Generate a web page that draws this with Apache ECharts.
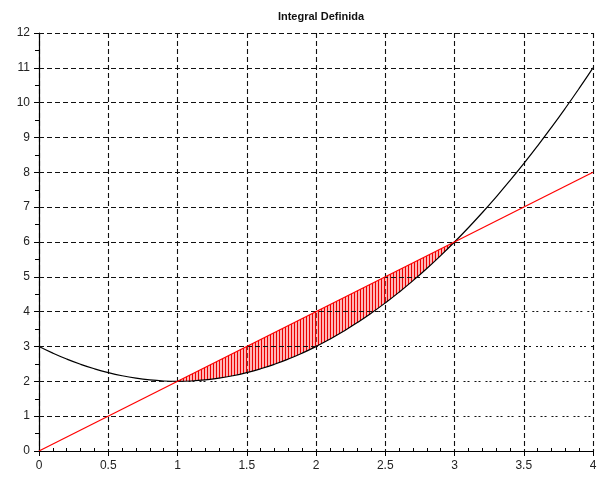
<!DOCTYPE html>
<html>
<head>
<meta charset="utf-8">
<script src="https://cdn.jsdelivr.net/npm/echarts@6/dist/echarts.min.js"></script>
<style>
  html, body { margin: 0; padding: 0; background: #fff; }
  #chart { width: 602px; height: 477px; }
</style>
</head>
<body>
<div id="chart"></div>
<script>
// Parabola f(x), sampled every 0.1
const curveX = [0, 0.1, 0.2, 0.3, 0.4, 0.5, 0.6, 0.7, 0.8, 0.9, 1, 1.1, 1.2, 1.3, 1.4, 1.5, 1.6, 1.7, 1.8, 1.9, 2,
                2.1, 2.2, 2.3, 2.4, 2.5, 2.6, 2.7, 2.8, 2.9, 3, 3.1, 3.2, 3.3, 3.4, 3.5, 3.6, 3.7, 3.8, 3.9, 4];
const curveY = [3, 2.81, 2.64, 2.49, 2.36, 2.25, 2.16, 2.09, 2.04, 2.01, 2, 2.01, 2.04, 2.09, 2.16, 2.25, 2.36, 2.49, 2.64, 2.81, 3,
                3.21, 3.44, 3.69, 3.96, 4.25, 4.56, 4.89, 5.24, 5.61, 6, 6.41, 6.84, 7.29, 7.76, 8.25, 8.76, 9.29, 9.84, 10.41, 11];

// Straight line g(x)
const lineX = [0, 4];
const lineY = [0, 8];

// Integration bounds (shaded region between the two graphs)
const boundA = 1;
const boundB = 3;

// Horizontal grid levels, and where the finer dotted style begins on the lower ones
const gridLevels = [1, 2, 3, 4, 5, 6, 7, 8, 9, 10, 11, 12];
const dottedFrom = { 1: 1, 2: 1, 3: 2, 4: 2.45 };

const xTicks = [0, 0.5, 1, 1.5, 2, 2.5, 3, 3.5, 4];
const yTicks = [0, 1, 2, 3, 4, 5, 6, 7, 8, 9, 10, 11, 12];

const FONT = 'Liberation Sans';

// Vertical hatch pattern used for the shaded area
function hatchPattern() {
  const c = document.createElement('canvas');
  c.width = 3; c.height = 4;
  const g = c.getContext('2d');
  g.fillStyle = 'rgba(255,90,90,0.45)';
  g.fillRect(0, 0, 3, 4);
  g.fillStyle = 'rgba(235,0,0,1)';
  g.fillRect(0, 0, 1, 4);
  return c;
}

const curveData = curveX.map((x, i) => [x, curveY[i]]);
const lineData = lineX.map((x, i) => [x, lineY[i]]);

const gridLines = [];
gridLevels.forEach(y => {
  const split = dottedFrom[y];
  const xMax = xTicks[xTicks.length - 1];
  const dashEnd = split !== undefined ? split : xMax;
  gridLines.push([{ coord: [0, y], lineStyle: { type: [5, 3] } }, { coord: [dashEnd, y] }]);
  if (split !== undefined) {
    gridLines.push([{ coord: [split, y], lineStyle: { type: [2, 2, 2, 5] } }, { coord: [xMax, y] }]);
  }
});

const chart = echarts.init(document.getElementById('chart'), null, { renderer: 'canvas' });
const pattern = hatchPattern();

chart.setOption({
  animation: false,
  backgroundColor: '#ffffff',
  title: {
    text: 'Integral Definida',
    left: 316, top: 6, textAlign: 'center',
    textStyle: { fontFamily: FONT, fontSize: 11, fontWeight: 'bold', color: '#111' }
  },
  grid: { left: 39, right: 9, top: 33, bottom: 26 },
  xAxis: [{
    type: 'value', min: xTicks[0], max: xTicks[xTicks.length - 1], interval: 0.5,
    axisLine: { show: true, onZero: false, lineStyle: { color: '#000', width: 1.2 } },
    axisTick: { show: true, length: 5, lineStyle: { color: '#000' } },
    minorTick: { show: false },
    axisLabel: { margin: 9, fontFamily: FONT, fontSize: 12, color: '#222' },
    splitLine: { show: true, lineStyle: { color: '#111', width: 1.1, type: [5, 3] } }
  }, {
    type: 'value', min: xTicks[0], max: xTicks[xTicks.length - 1], interval: 0.5,
    position: 'bottom',
    axisLine: { show: false },
    axisTick: { show: false, inside: true },
    minorTick: { show: true, splitNumber: 5, length: 3, lineStyle: { color: '#000', width: 1 } },
    axisLabel: { show: false },
    splitLine: { show: false }
  }],
  yAxis: {
    type: 'value', min: yTicks[0], max: yTicks[yTicks.length - 1], interval: 1,
    axisLine: { show: true, onZero: false, lineStyle: { color: '#000', width: 1.2 } },
    axisTick: { show: true, length: 5, lineStyle: { color: '#000' } },
    minorTick: { show: true, splitNumber: 2, length: 4, lineStyle: { color: '#000' } },
    axisLabel: { margin: 9, fontFamily: FONT, fontSize: 12, color: '#222' },
    splitLine: { show: false }
  },
  series: [
    {
      name: 'grid',
      type: 'line',
      data: [],
      silent: true,
      markLine: {
        silent: true,
        symbol: ['none', 'none'],
        label: { show: false },
        lineStyle: { color: '#111', width: 1.1 },
        data: gridLines
      },
      z: 1
    },
    {
      name: 'area',
      type: 'custom',
      silent: true,
      data: [[boundA, boundB]],
      z: 2,
      renderItem: function (params, api) {
        const pts = [];
        curveData.forEach(p => {
          if (p[0] >= boundA - 1e-9 && p[0] <= boundB + 1e-9) pts.push(api.coord(p));
        });
        return {
          type: 'polygon',
          shape: { points: pts },
          style: { fill: { image: pattern, repeat: 'repeat' }, stroke: null }
        };
      }
    },
    {
      name: 'f',
      type: 'line',
      data: curveData,
      smooth: true,
      showSymbol: false,
      lineStyle: { color: '#000', width: 1.2 },
      z: 4
    },
    {
      name: 'g',
      type: 'line',
      data: lineData,
      showSymbol: false,
      lineStyle: { color: '#ff0000', width: 1.2 },
      z: 5
    }
  ]
});
</script>
</body>
</html>
